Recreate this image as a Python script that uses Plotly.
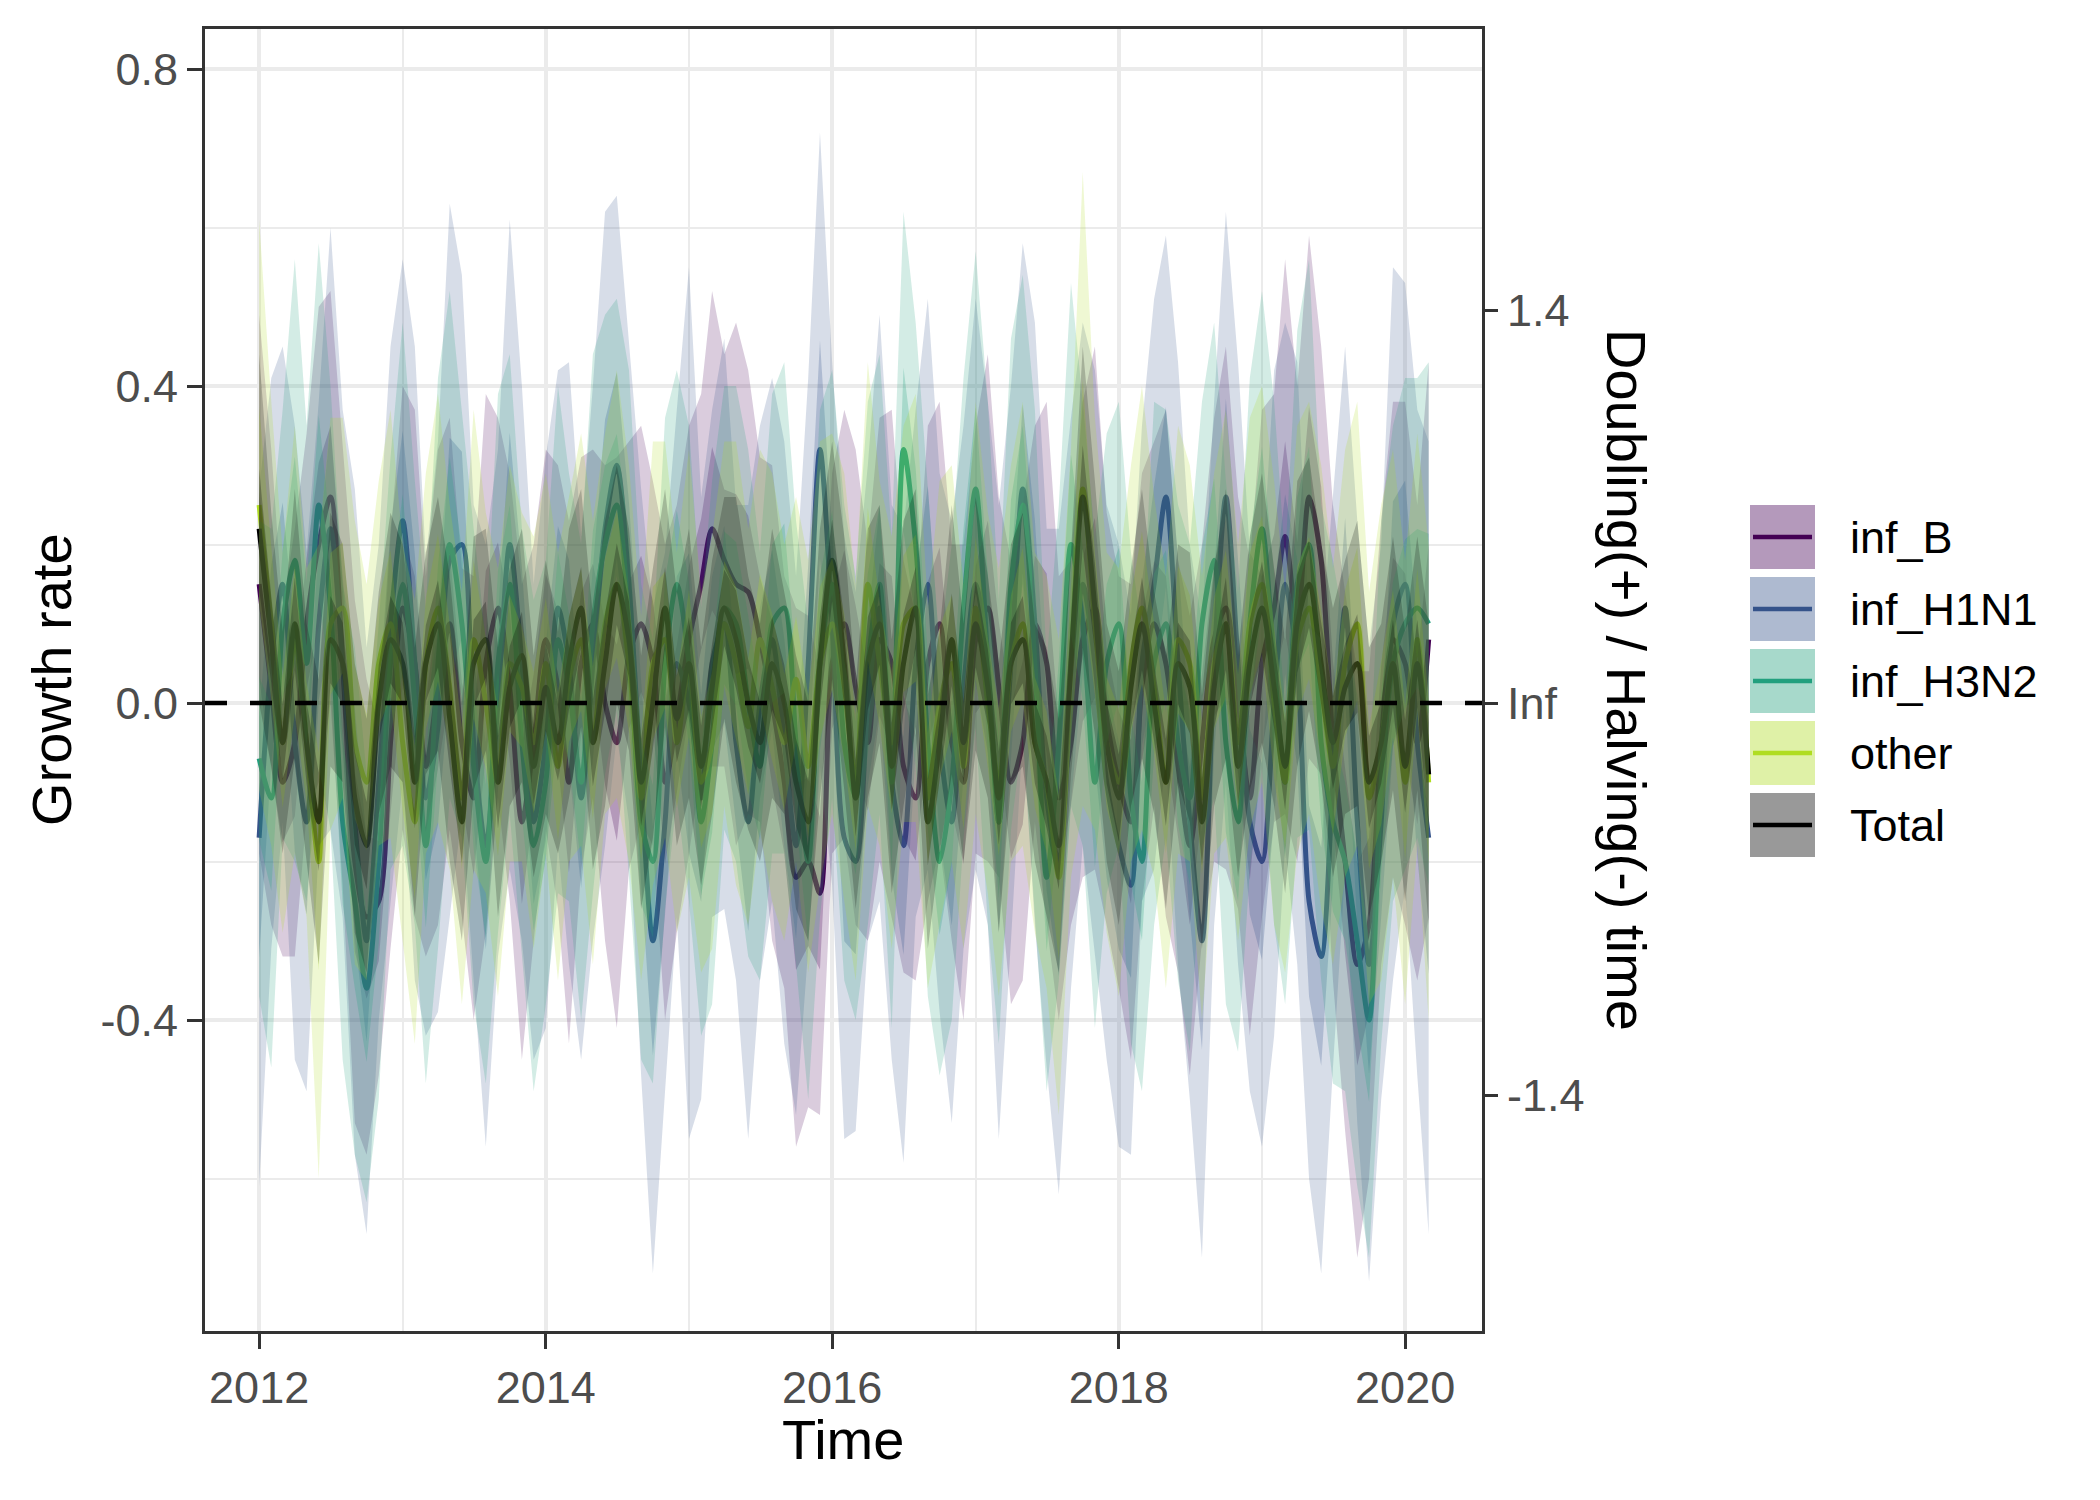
import math
import pandas as pd
import plotly.graph_objects as go

# monthly estimates, Jan 2012 .. Mar 2020
months = pd.date_range("2012-01-01", periods=99, freq="MS")

series_names = ["inf_B", "inf_H1N1", "inf_H3N2", "other", "Total"]

inf_B = [0.15, 0.02, -0.10, -0.05, 0.10, 0.20, 0.26, 0.05, -0.20, -0.27, -0.25, -0.05,
         0.12, 0.05, -0.08, 0.02, 0.10, -0.05, -0.12, 0.05, 0.12, 0.02, -0.15, -0.05,
         0.08, 0.02, -0.10, 0.05, 0.10, 0.00, -0.05, 0.06, 0.10, 0.05, -0.10, -0.02,
         0.08, 0.15, 0.22, 0.18, 0.15, 0.14, 0.08, 0.00, -0.10, -0.22, -0.20, -0.24,
         0.05, 0.10, 0.02, -0.05, 0.08, 0.05, -0.08, -0.12, 0.05, 0.10, -0.05, -0.10,
         0.08, 0.12, 0.02, -0.10, -0.05, 0.10, 0.05, -0.12, -0.05, 0.08, 0.12, -0.02,
         -0.10, -0.15, 0.02, 0.10, 0.05, -0.08, -0.18, -0.05, 0.08, 0.12, 0.00, -0.12,
         0.05, 0.12, 0.21, 0.10, 0.26, 0.18, -0.05, -0.20, -0.33, -0.28, -0.05, 0.08,
         0.05, -0.05, 0.08]
inf_H1N1 = [-0.17, 0.05, 0.15, -0.05, -0.15, 0.10, 0.22, 0.05, -0.15, -0.30, -0.10, 0.10,
            0.23, 0.05, -0.12, -0.03, 0.18, 0.20, -0.05, -0.18, 0.00, 0.20, 0.05, -0.15,
            -0.05, 0.12, 0.05, -0.12, 0.05, 0.22, 0.30, 0.15, -0.10, -0.30, -0.15, 0.05,
            0.00, -0.12, 0.05, 0.10, -0.05, -0.15, 0.00, 0.08, -0.05, -0.18, 0.05, 0.32,
            0.10, -0.17, -0.20, 0.00, 0.12, -0.10, -0.18, 0.05, 0.15, -0.05, -0.15, 0.02,
            0.15, 0.05, -0.15, 0.05, 0.27, 0.10, -0.12, -0.20, 0.00, 0.15, 0.05, -0.10,
            -0.18, -0.23, 0.05, 0.15, 0.26, 0.05, -0.15, -0.30, 0.05, 0.26, 0.05, -0.15,
            -0.20, 0.00, 0.15, 0.05, -0.25, -0.32, -0.10, 0.12, -0.15, -0.33, -0.15, 0.10,
            0.15, -0.05, -0.17]
inf_H3N2 = [-0.07, -0.12, 0.10, 0.18, 0.05, 0.25, 0.12, -0.15, -0.25, -0.36, -0.20, 0.05,
            0.15, 0.00, -0.18, 0.05, 0.20, 0.10, -0.08, -0.20, 0.05, 0.15, -0.05, -0.18,
            -0.10, 0.08, 0.02, -0.10, 0.10, 0.20, 0.25, 0.10, -0.15, -0.20, 0.05, 0.15,
            0.05, -0.15, -0.05, 0.12, 0.10, 0.00, -0.08, 0.10, 0.12, -0.05, -0.20, 0.05,
            0.15, -0.05, -0.12, 0.05, 0.15, -0.10, 0.32, 0.20, -0.05, -0.20, -0.10, 0.12,
            0.27, 0.05, -0.15, 0.15, 0.25, 0.05, -0.22, -0.05, 0.20, 0.10, -0.10, 0.05,
            0.10, -0.12, -0.20, 0.05, 0.10, -0.05, -0.12, 0.10, 0.18, -0.05, -0.15, 0.10,
            0.22, 0.05, -0.10, 0.15, 0.20, -0.05, -0.15, -0.20, -0.30, -0.40, -0.10, 0.05,
            0.10, 0.12, 0.10]
other = [0.25, 0.10, -0.05, 0.08, -0.05, -0.20, 0.10, 0.12, -0.05, -0.10, 0.05, 0.10,
         -0.05, -0.15, 0.05, 0.12, 0.02, -0.12, 0.08, 0.00, -0.10, 0.05, 0.02, -0.05,
         0.05, -0.08, 0.03, 0.08, -0.05, 0.10, 0.15, 0.05, -0.12, 0.05, 0.08, -0.05,
         0.05, -0.10, -0.05, 0.10, 0.05, -0.03, 0.08, 0.02, -0.05, 0.03, -0.08, 0.05,
         0.10, 0.02, -0.10, 0.15, 0.05, -0.05, 0.10, 0.12, -0.12, 0.00, 0.05, -0.08,
         0.12, 0.00, -0.10, 0.05, 0.10, -0.05, -0.10, -0.22, 0.05, 0.27, 0.10, -0.05,
         -0.10, 0.05, 0.12, 0.02, -0.10, 0.08, 0.05, -0.12, 0.05, 0.10, -0.05, 0.10,
         0.15, 0.00, -0.10, 0.08, 0.12, 0.02, -0.08, 0.05, 0.10, -0.12, -0.05, 0.05,
         -0.10, 0.08, -0.10]
total = [0.22, 0.08, -0.05, 0.10, -0.05, -0.15, 0.08, 0.05, -0.12, -0.18, 0.00, 0.08,
         0.05, -0.10, 0.05, 0.10, -0.02, -0.15, 0.05, 0.08, -0.10, 0.02, 0.06, -0.08,
         0.02, -0.05, 0.05, 0.12, -0.05, 0.05, 0.15, 0.08, -0.10, 0.00, 0.12, -0.02,
         0.05, -0.08, 0.02, 0.12, 0.08, 0.00, -0.05, 0.05, 0.00, -0.10, -0.15, 0.05,
         0.18, 0.05, -0.12, 0.05, 0.10, -0.08, 0.05, 0.12, -0.15, -0.05, 0.08, -0.05,
         0.10, 0.02, -0.12, 0.05, 0.08, -0.05, -0.10, -0.18, 0.05, 0.26, 0.12, -0.05,
         -0.12, 0.02, 0.10, 0.00, -0.10, 0.05, 0.02, -0.15, 0.02, 0.10, -0.08, 0.05,
         0.12, 0.02, -0.08, 0.10, 0.15, 0.05, -0.05, 0.02, 0.05, -0.10, -0.05, 0.05,
         -0.08, 0.05, -0.09]

# 95% interval half-widths
inf_B_hw = [0.34, 0.30, 0.22, 0.27, 0.24, 0.30, 0.26, 0.28, 0.33, 0.30, 0.22, 0.26,
            0.28, 0.32, 0.24, 0.30, 0.26, 0.22, 0.28, 0.34, 0.24, 0.27, 0.30, 0.25,
            0.24, 0.28, 0.33, 0.26, 0.22, 0.30, 0.36, 0.27, 0.25, 0.23, 0.30, 0.27,
            0.27, 0.24, 0.30, 0.26, 0.33, 0.28, 0.23, 0.30, 0.26, 0.34, 0.31, 0.28,
            0.24, 0.27, 0.30, 0.25, 0.28, 0.32, 0.26, 0.23, 0.30, 0.28, 0.25, 0.30,
            0.27, 0.32, 0.24, 0.28, 0.30, 0.25, 0.33, 0.28, 0.23, 0.30, 0.33, 0.26,
            0.26, 0.30, 0.27, 0.23, 0.32, 0.26, 0.29, 0.25, 0.28, 0.33, 0.26, 0.30,
            0.32, 0.27, 0.35, 0.30, 0.33, 0.27, 0.30, 0.34, 0.37, 0.32, 0.28, 0.30,
            0.33, 0.30, 0.35]
inf_H1N1_hw = [0.44, 0.36, 0.30, 0.40, 0.34, 0.28, 0.38, 0.32, 0.42, 0.37, 0.30, 0.35,
               0.33, 0.40, 0.30, 0.36, 0.45, 0.34, 0.30, 0.38, 0.32, 0.41, 0.35, 0.30,
               0.36, 0.30, 0.38, 0.33, 0.35, 0.40, 0.34, 0.30, 0.37, 0.42, 0.34, 0.32,
               0.55, 0.38, 0.32, 0.36, 0.30, 0.40, 0.35, 0.33, 0.38, 0.34, 0.36, 0.40,
               0.33, 0.38, 0.34, 0.30, 0.37, 0.35, 0.40, 0.32, 0.36, 0.34, 0.38, 0.33,
               0.36, 0.33, 0.40, 0.35, 0.31, 0.38, 0.34, 0.42, 0.36, 0.33, 0.37, 0.35,
               0.38, 0.34, 0.30, 0.36, 0.33, 0.38, 0.35, 0.40, 0.33, 0.36, 0.38, 0.34,
               0.36, 0.42, 0.33, 0.38, 0.35, 0.40, 0.36, 0.33, 0.38, 0.40, 0.35, 0.45,
               0.38, 0.42, 0.50]
inf_H3N2_hw = [0.30, 0.34, 0.27, 0.38, 0.30, 0.33, 0.28, 0.30, 0.32, 0.27, 0.30, 0.26,
               0.33, 0.28, 0.30, 0.36, 0.32, 0.27, 0.30, 0.28, 0.34, 0.29, 0.27, 0.31,
               0.28, 0.32, 0.27, 0.30, 0.34, 0.29, 0.26, 0.32, 0.30, 0.28, 0.31, 0.27,
               0.30, 0.27, 0.33, 0.28, 0.30, 0.32, 0.27, 0.29, 0.31, 0.28, 0.30, 0.32,
               0.27, 0.30, 0.28, 0.33, 0.29, 0.31, 0.30, 0.28, 0.32, 0.27, 0.30, 0.29,
               0.30, 0.33, 0.28, 0.31, 0.29, 0.32, 0.27, 0.30, 0.33, 0.28, 0.31, 0.29,
               0.28, 0.31, 0.29, 0.33, 0.27, 0.30, 0.32, 0.28, 0.30, 0.33, 0.29, 0.31,
               0.30, 0.33, 0.28, 0.32, 0.36, 0.30, 0.33, 0.29, 0.31, 0.30, 0.33, 0.30,
               0.31, 0.29, 0.33]
other_hw = [0.36, 0.28, 0.24, 0.27, 0.22, 0.40, 0.26, 0.24, 0.28, 0.25, 0.23, 0.27,
            0.25, 0.28, 0.24, 0.27, 0.23, 0.26, 0.29, 0.24, 0.27, 0.25, 0.22, 0.26,
            0.24, 0.27, 0.23, 0.26, 0.28, 0.24, 0.27, 0.25, 0.23, 0.28, 0.25, 0.24,
            0.27, 0.24, 0.26, 0.23, 0.28, 0.25, 0.24, 0.27, 0.25, 0.23, 0.26, 0.28,
            0.24, 0.27, 0.25, 0.28, 0.23, 0.26, 0.25, 0.27, 0.24, 0.28, 0.25, 0.23,
            0.26, 0.24, 0.27, 0.25, 0.28, 0.24, 0.26, 0.30, 0.27, 0.40, 0.26, 0.24,
            0.27, 0.25, 0.28, 0.24, 0.26, 0.27, 0.25, 0.28, 0.24, 0.27, 0.25, 0.26,
            0.25, 0.28, 0.24, 0.27, 0.26, 0.28, 0.25, 0.27, 0.28, 0.26, 0.30, 0.27,
            0.28, 0.26, 0.30]
total_hw = [0.22, 0.16, 0.14, 0.17, 0.15, 0.18, 0.16, 0.15, 0.17, 0.16, 0.14, 0.16,
            0.15, 0.17, 0.14, 0.16, 0.18, 0.15, 0.16, 0.14, 0.17, 0.15, 0.16, 0.14,
            0.16, 0.14, 0.17, 0.15, 0.16, 0.18, 0.15, 0.14, 0.16, 0.17, 0.15, 0.16,
            0.17, 0.15, 0.16, 0.14, 0.18, 0.16, 0.15, 0.17, 0.14, 0.16, 0.15, 0.17,
            0.15, 0.16, 0.14, 0.17, 0.15, 0.16, 0.18, 0.15, 0.16, 0.14, 0.17, 0.15,
            0.16, 0.14, 0.17, 0.15, 0.16, 0.15, 0.17, 0.16, 0.14, 0.19, 0.16, 0.15,
            0.16, 0.15, 0.17, 0.14, 0.16, 0.15, 0.17, 0.16, 0.15, 0.17, 0.14, 0.16,
            0.17, 0.15, 0.16, 0.18, 0.16, 0.15, 0.17, 0.16, 0.18, 0.17, 0.15, 0.16,
            0.17, 0.16, 0.19]

colors = ["#440154", "#35538A", "#22A07E", "#B0DD22", "#000000"]
means = [inf_B, inf_H1N1, inf_H3N2, other, total]
halfwidths = [inf_B_hw, inf_H1N1_hw, inf_H3N2_hw, other_hw, total_hw]

# the page puts the plot 8px in from the corner, so pull everything back by that
OFF = 8
W_FIG, H_FIG = 2100, 1500
L, R, T, B = 205 - OFF, 1482 - OFF, 29 - OFF, 1331 - OFF
PW, PH = R - L, B - T

def px_x(p):
    return (p - OFF - L) / PW

def px_y(p):
    return (B - (p - OFF)) / PH

def rgba(hex_col, a):
    h = hex_col.lstrip("#")
    r, g, b = int(h[0:2], 16), int(h[2:4], 16), int(h[4:6], 16)
    return "rgba(%d,%d,%d,%.2f)" % (r, g, b, a)

fig = go.Figure()

# lines first, ribbons drawn over them
for name, col, m in zip(series_names, colors, means):
    fig.add_trace(go.Scatter(x=months, y=m, mode="lines", name=name,
                             line=dict(color=col, width=5, shape="spline", smoothing=0.8),
                             showlegend=False, hoverinfo="skip"))

q50 = 0.674 / 1.96
xs = list(months) + list(months[::-1])
for name, col, m, hw in zip(series_names, colors, means, halfwidths):
    for scale, alpha in [(1.0, 0.2), (q50, 0.25)]:
        hi = [v + w * scale for v, w in zip(m, hw)]
        lo = [v - w * scale for v, w in zip(m, hw)]
        fig.add_trace(go.Scatter(x=xs, y=hi + lo[::-1], mode="lines", fill="toself",
                                 fillcolor=rgba(col, alpha), line=dict(width=0),
                                 showlegend=False, hoverinfo="skip"))

# dummy trace so the secondary axis is drawn
fig.add_trace(go.Scatter(x=[months[0]], y=[0], yaxis="y2", mode="markers",
                         marker=dict(opacity=0), showlegend=False, hoverinfo="skip"))

yr = [-0.7924, 0.8505]
tick_font = dict(family="Liberation Sans, Arial, sans-serif", size=45, color="#4D4D4D")
title_font = dict(family="Liberation Sans, Arial, sans-serif", size=56, color="#000000")

fig.update_layout(
    width=W_FIG, height=H_FIG,
    margin=dict(l=L, r=W_FIG - R, t=T, b=H_FIG - B),
    paper_bgcolor="white", plot_bgcolor="white",
    showlegend=False,
    xaxis=dict(
        range=["2011-08-16", "2020-07-15"],
        tickvals=["2012-01-01", "2014-01-01", "2016-01-01", "2018-01-01", "2020-01-01"],
        ticktext=["2012", "2014", "2016", "2018", "2020"],
        showgrid=True, gridcolor="#EBEBEB", gridwidth=4,
        minor=dict(tickvals=["2013-01-01", "2015-01-01", "2017-01-01", "2019-01-01"],
                   showgrid=True, gridcolor="#EBEBEB", gridwidth=2, ticks=""),
        showline=True, linecolor="#333333", linewidth=3, mirror=True,
        ticks="outside", ticklen=15, tickwidth=3, tickcolor="#333333",
        tickfont=tick_font, zeroline=False,
    ),
    yaxis=dict(
        range=yr,
        tickvals=[-0.4, 0.0, 0.4, 0.8],
        ticktext=["-0.4", "0.0", "0.4", "0.8"],
        showgrid=True, gridcolor="#EBEBEB", gridwidth=4,
        minor=dict(tickvals=[-0.6, -0.2, 0.2, 0.6], showgrid=True,
                   gridcolor="#EBEBEB", gridwidth=2, ticks=""),
        showline=True, linecolor="#333333", linewidth=3, mirror=True,
        ticks="outside", ticklen=15, tickwidth=3, tickcolor="#333333",
        tickfont=tick_font, zeroline=False,
    ),
    yaxis2=dict(
        range=yr, overlaying="y", side="right",
        tickvals=[math.log(2) / 1.4, 0.0, -math.log(2) / 1.4],
        ticktext=["1.4", "Inf", "-1.4"],
        showgrid=False, zeroline=False, showline=False,
        ticks="outside", ticklen=15, tickwidth=3, tickcolor="#333333",
        tickfont=tick_font,
    ),
)

# horizontal dashed reference line at zero growth
fig.add_shape(type="line", xref="paper", yref="y", x0=0, x1=1, y0=0, y1=0,
              line=dict(color="black", width=4.5, dash="22px,23px"), layer="above")

# axis titles
fig.add_annotation(text="Time", xref="paper", yref="paper", x=px_x(843), y=px_y(1439),
                   showarrow=False, font=title_font, xanchor="center", yanchor="middle")
fig.add_annotation(text="Growth rate", xref="paper", yref="paper", x=px_x(51), y=px_y(680),
                   showarrow=False, font=title_font, textangle=-90,
                   xanchor="center", yanchor="middle")
fig.add_annotation(text="Doubling(+) / Halving(-) time", xref="paper", yref="paper",
                   x=px_x(1627), y=px_y(680), showarrow=False, font=title_font,
                   textangle=90, xanchor="center", yanchor="middle")

# legend drawn by hand (fill square with line through it)
key_x0, key_x1 = 1750, 1815
for i, (name, col) in enumerate(zip(series_names, colors)):
    top = 505 + 72 * i
    fig.add_shape(type="rect", xref="paper", yref="paper",
                  x0=px_x(key_x0), x1=px_x(key_x1), y0=px_y(top + 64), y1=px_y(top),
                  fillcolor=rgba(col, 0.4), line=dict(width=0), layer="above")
    fig.add_shape(type="line", xref="paper", yref="paper",
                  x0=px_x(key_x0 + 3), x1=px_x(key_x1 - 3),
                  y0=px_y(top + 32), y1=px_y(top + 32),
                  line=dict(color=col, width=4.5), layer="above")
    fig.add_annotation(text=name, xref="paper", yref="paper", x=px_x(1848), y=px_y(top + 32),
                       showarrow=False, xanchor="left", yanchor="middle",
                       font=dict(family="Liberation Sans, Arial, sans-serif", size=45,
                                 color="#000000"))

fig.write_html("out.html")
